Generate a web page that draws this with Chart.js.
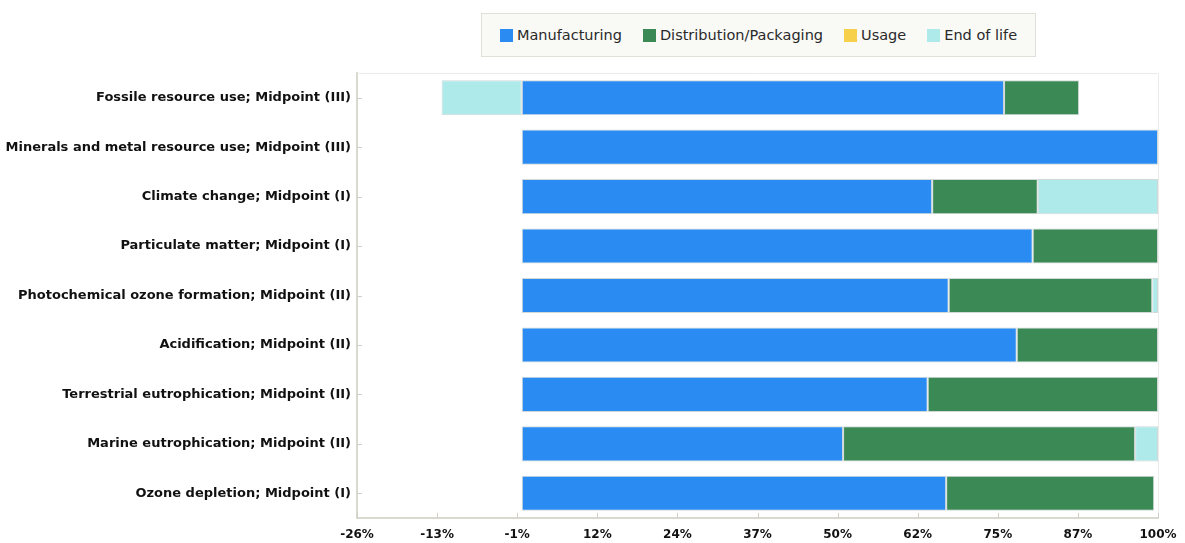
<!DOCTYPE html>
<html>
<head>
<meta charset="utf-8">
<script src="https://cdn.jsdelivr.net/npm/chart.js@4/dist/chart.umd.min.js"></script>
<style>
  html, body { margin: 0; padding: 0; background: #fff; }
  #wrap { position: relative; width: 1185px; height: 543px; }
  #legend {
    position: absolute; left: 481px; top: 13px; width: 555px; height: 44px;
    box-sizing: border-box; border: 1px solid #e0e0d8; background: #f9f9f6;
    display: flex; align-items: center; justify-content: center;
    font: 14.5px "DejaVu Sans", sans-serif; color: #2a2a2a;
  }
  #legend span.item { display: flex; align-items: center; margin: 0 10.5px; }
  #legend span.box { width: 13px; height: 13px; margin-right: 4px; display: inline-block; }
</style>
</head>
<body>
<div id="wrap">
  <canvas id="grafico" width="1185" height="543"></canvas>
  <div id="legend"></div>
</div>
<script>
const categorias = [
  'Fossile resource use; Midpoint (III)',
  'Minerals and metal resource use; Midpoint (III)',
  'Climate change; Midpoint (I)',
  'Particulate matter; Midpoint (I)',
  'Photochemical ozone formation; Midpoint (II)',
  'Acidification; Midpoint (II)',
  'Terrestrial eutrophication; Midpoint (II)',
  'Marine eutrophication; Midpoint (II)',
  'Ozone depletion; Midpoint (I)'
];

const manufacturing = [75.8, 100, 64.5, 80.3, 67.1, 77.8, 63.8, 50.5, 66.7];
const distribution  = [11.8, 0, 16.6, 19.7, 32.0, 22.2, 36.2, 45.9, 32.7];
const usage         = [0, 0, 0, 0, 0, 0, 0, 0, 0];
const endOfLife     = [-12.6, 0, 18.9, 0, 0.9, 0, 0, 3.6, 0];

const tickValues = [-25.9, -13.31, -0.72, 11.87, 24.46, 37.05, 49.64, 62.23, 74.82, 87.41, 100];

const series = [
  { nome: 'Manufacturing', dados: manufacturing, cor: '#2a8bf2' },
  { nome: 'Distribution/Packaging', dados: distribution, cor: '#3b8a55' },
  { nome: 'Usage', dados: usage, cor: '#f6d04a' },
  { nome: 'End of life', dados: endOfLife, cor: '#aeeaea' }
];

// legenda em html, centrada sobre a area do grafico
const legend = document.getElementById('legend');
legend.innerHTML = series.map(s =>
  `<span class="item"><span class="box" style="background:${s.cor}"></span>${s.nome}</span>`
).join('');

// bordas claras e tracinhos para dentro
const molduraPlugin = {
  id: 'moldura',
  beforeDatasetsDraw(chart) {
    const { ctx, chartArea: a, scales } = chart;
    ctx.save();
    ctx.strokeStyle = '#ececea';
    ctx.lineWidth = 1;
    ctx.beginPath();
    ctx.moveTo(a.left, a.top + 0.5);
    ctx.lineTo(a.right + 0.5, a.top + 0.5);
    ctx.lineTo(a.right + 0.5, a.bottom);
    ctx.stroke();

    ctx.strokeStyle = '#cfcfc6';
    ctx.beginPath();
    scales.y.ticks.forEach((t, i) => {
      const y = Math.round(scales.y.getPixelForTick(i)) + 0.5;
      ctx.moveTo(a.left, y);
      ctx.lineTo(a.left + 5, y);
    });
    scales.x.ticks.forEach((t, i) => {
      const x = Math.round(scales.x.getPixelForTick(i)) + 0.5;
      ctx.moveTo(x, a.bottom);
      ctx.lineTo(x, a.bottom - 5);
    });
    ctx.stroke();
    ctx.restore();
  }
};

new Chart(document.getElementById('grafico').getContext('2d'), {
  type: 'bar',
  data: {
    labels: categorias,
    datasets: series.map(s => ({
      label: s.nome,
      data: s.dados,
      backgroundColor: s.cor,
      borderColor: 'rgba(190,200,200,0.7)',
      borderWidth: 1,
      borderSkipped: false,
      barPercentage: 0.71,
      categoryPercentage: 1
    }))
  },
  options: {
    indexAxis: 'y',
    responsive: false,
    animation: false,
    layout: { padding: { top: 73, right: 27, left: 0, bottom: 0 } },
    plugins: {
      legend: { display: false },
      tooltip: { enabled: false }
    },
    scales: {
      x: {
        stacked: true,
        min: -25.9,
        max: 100,
        afterBuildTicks(scale) {
          scale.ticks = tickValues.map(v => ({ value: v }));
        },
        afterFit(scale) {
          scale.height = 25;
          scale.paddingLeft = 0;
          scale.paddingRight = 0;
        },
        grid: { display: true, drawOnChartArea: false, drawTicks: false },
        border: { color: '#d9d9cf', width: 2 },
        ticks: {
          padding: 10,
          color: '#111',
          font: { family: 'DejaVu Sans', size: 12, weight: 'bold' },
          callback: v => Math.round(v) + '%'
        }
      },
      y: {
        stacked: true,
        afterFit(scale) { scale.width = 357; },
        grid: { display: true, drawOnChartArea: false, drawTicks: false },
        border: { color: '#d9d9cf', width: 2 },
        ticks: {
          padding: 6,
          color: '#111',
          font: { family: 'DejaVu Sans', size: 13, weight: 'bold' }
        }
      }
    }
  },
  plugins: [molduraPlugin]
});
</script>
</body>
</html>
